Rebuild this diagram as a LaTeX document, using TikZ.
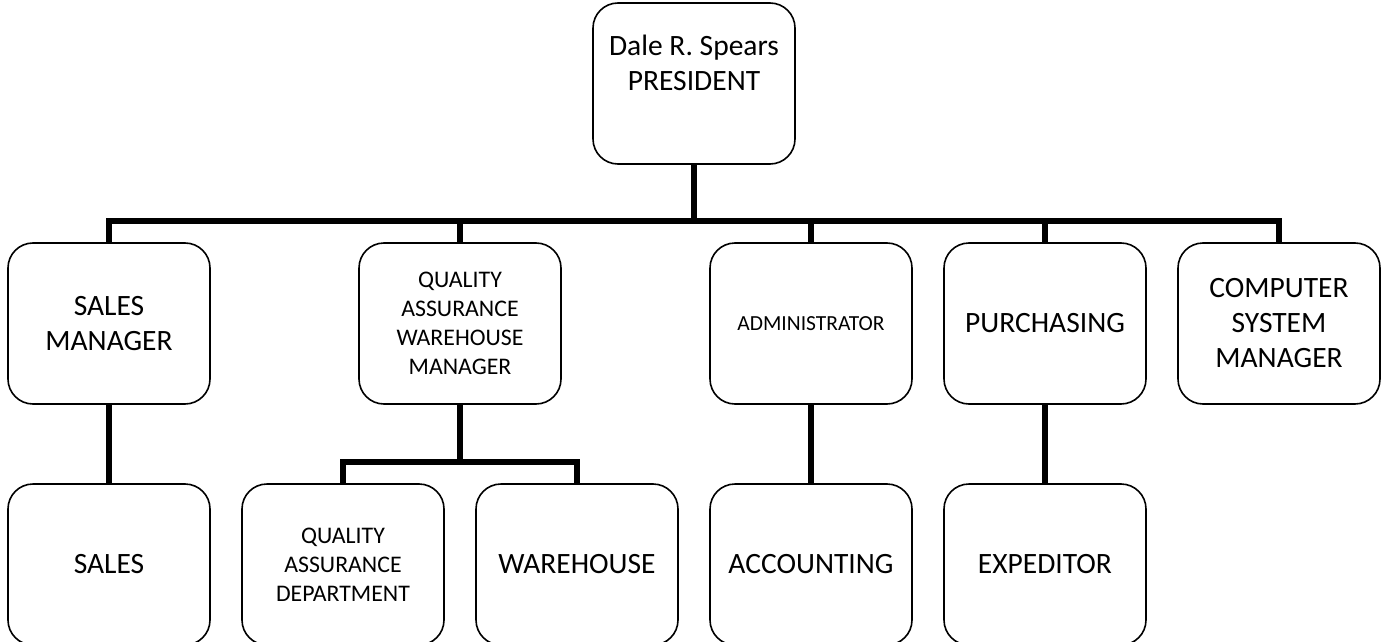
\documentclass[tikz,border=0pt]{standalone}
\usepackage{fontspec}
\setmainfont{Carlito}
\usetikzlibrary{positioning,calc}
\begin{document}
\begin{tikzpicture}[x=1pt,y=1pt,
    box/.style={draw,line width=1.6pt,rounded corners=25pt,minimum width=202pt,minimum height=161pt,
      inner sep=0pt,outer sep=0pt,align=center,font=\fontsize{29.5}{35}\selectfont},
    mid/.style={font=\fontsize{23.8}{29}\selectfont},
    small/.style={font=\fontsize{21.5}{25}\selectfont},
    link/.style={line width=6pt},
    node distance=80pt and 32pt]
    \useasboundingbox (0,0) rectangle (1385,-642);
    \node[box] (sales) at (109,-564.5) {SALES};
    \node[box,mid,right=of sales] (qadept) {QUALITY\\ASSURANCE\\DEPARTMENT};
    \node[box,right=of qadept] (wareh) {WAREHOUSE};
    \node[box,right=of wareh] (acct) {ACCOUNTING};
    \node[box,right=of acct] (exped) {EXPEDITOR};
    \node[box,above=of sales] (salesmgr) {SALES\\MANAGER};
    \coordinate (qamid) at ($(qadept.north)!.5!(wareh.north)$);
    \node[box,mid,above=of qamid] (qamgr) {QUALITY\\ASSURANCE\\WAREHOUSE\\MANAGER};
    \node[box,small,above=of acct] (admin) {ADMINISTRATOR};
    \node[box,above=of exped] (purch) {PURCHASING};
    \node[box,right=of purch] (comp) {COMPUTER\\SYSTEM\\MANAGER};
    \coordinate (top) at ($(salesmgr.north)!.5!(comp.north)$);
    \node[box,text depth=42pt,above=79pt of top] (pres) {Dale R. Spears\\PRESIDENT};
    \coordinate (bar) at ($(top)+(0,22)$);
    \coordinate (subbar) at ($(qamid)+(0,22)$);
    \draw[link] (pres.south) -- (bar);
    \draw[link] (salesmgr.north) |- (bar) -| (comp.north);
    \foreach \n in {qamgr,admin,purch}
      \draw[link] (\n.north) -- (\n.north |- bar);
    \draw[link] (qamgr.south) -- (subbar);
    \draw[link] (qadept.north) |- (subbar) -| (wareh.north);
    \draw[link] (salesmgr) -- (sales);
    \draw[link] (admin) -- (acct);
    \draw[link] (purch) -- (exped);
\end{tikzpicture}
\end{document}
